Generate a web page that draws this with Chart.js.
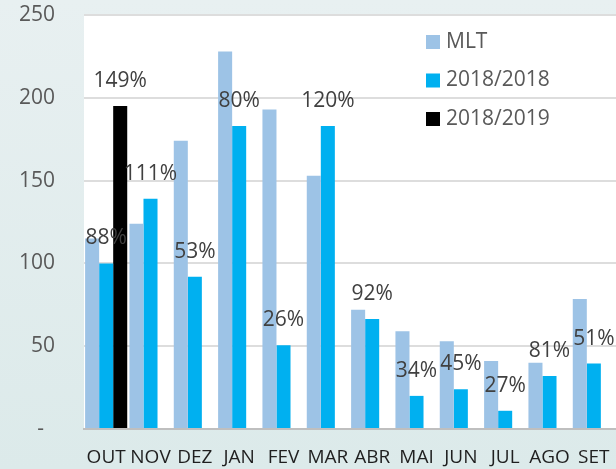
<!DOCTYPE html>
<html>
<head>
<meta charset="utf-8">
<script src="https://cdn.jsdelivr.net/npm/chart.js@4/dist/chart.umd.min.js"></script>
<style>
  html, body { margin: 0; padding: 0; background: #E6EFF0; }
  #wrap { width: 616px; height: 469px; }
</style>
</head>
<body>
<div id="wrap"><canvas id="chart" width="616" height="469"></canvas></div>
<script>
const months = ["OUT", "NOV", "DEZ", "JAN", "FEV", "MAR", "ABR", "MAI", "JUN", "JUL", "AGO", "SET"];
const mlt = [115, 124, 174, 228, 193, 153, 72, 59, 53, 41, 40, 78.5];
const serie1818 = [100, 139, 92, 183, 50.5, 183, 66.5, 20, 24, 11, 32, 39.5];
const serie1819 = [195, null, null, null, null, null, null, null, null, null, null, null];
const pct1818 = ["88%", "111%", "53%", "80%", "26%", "120%", "92%", "34%", "45%", "27%", "81%", "51%"];
const pct1819 = ["149%", null, null, null, null, null, null, null, null, null, null, null];
const yTicks = [0, 50, 100, 150, 200, 250];

const FONT = "'Open Sans', 'Noto Sans', sans-serif";

// fundo cinza-azulado fora da area do grafico, area branca dentro
const bgPlugin = {
    id: "bg",
    beforeDraw(chart) {
        const ctx = chart.ctx;
        const a = chart.chartArea;
        const g = ctx.createLinearGradient(0, 0, 0, chart.height);
        g.addColorStop(0, "#E8F0F1");
        g.addColorStop(1, "#DCEAEA");
        ctx.save();
        ctx.fillStyle = g;
        ctx.fillRect(0, 0, chart.width, chart.height);
        ctx.fillStyle = "#FFFFFF";
        ctx.fillRect(a.left, a.top, a.right - a.left, a.bottom - a.top);
        ctx.restore();
    }
};

// rotulos de percentagem por cima das barras
const pctPlugin = {
    id: "pct",
    afterDatasetsDraw(chart) {
        const ctx = chart.ctx;
        ctx.save();
        ctx.font = "21px " + FONT;
        ctx.fillStyle = "#404040";
        ctx.textAlign = "center";
        ctx.textBaseline = "middle";
        [[1, pct1818], [2, pct1819]].forEach(([dsIndex, labels]) => {
            const meta = chart.getDatasetMeta(dsIndex);
            meta.data.forEach((bar, i) => {
                if (!labels[i]) return;
                ctx.fillText(labels[i], bar.x, bar.y - 25);
            });
        });
        ctx.restore();
    }
};

// legenda vertical dentro da area do grafico
const legendPlugin = {
    id: "customLegend",
    afterDraw(chart) {
        const ctx = chart.ctx;
        ctx.save();
        ctx.font = "21px " + FONT;
        ctx.textBaseline = "middle";
        chart.data.datasets.forEach((ds, i) => {
            const y = 42 + i * 38.5;
            ctx.fillStyle = ds.backgroundColor;
            ctx.fillRect(426, y - 7, 14, 14);
            ctx.fillStyle = "#595959";
            ctx.fillText(ds.label, 446, y);
        });
        ctx.restore();
    }
};

new Chart(document.getElementById("chart"), {
    type: "bar",
    data: {
        labels: months,
        datasets: [
            { label: "MLT", data: mlt, backgroundColor: "#9DC3E6" },
            { label: "2018/2018", data: serie1818, backgroundColor: "#00B0F0" },
            { label: "2018/2019", data: serie1819, backgroundColor: "#000000" }
        ]
    },
    options: {
        responsive: false,
        animation: false,
        layout: { padding: { top: 15, right: 0, left: 0, bottom: 0 } },
        datasets: { bar: { categoryPercentage: 0.95, barPercentage: 1.0, borderWidth: 0 } },
        plugins: {
            legend: { display: false },
            tooltip: { enabled: false }
        },
        scales: {
            x: {
                grid: { display: false, drawTicks: false },
                border: { display: true, color: "#BFBFBF", width: 2 },
                ticks: { color: "#1F1F1F", font: { family: FONT, size: 19 }, padding: 17, maxRotation: 0, autoSkip: false },
                afterFit(scale) {
                    scale.height = 40;
                    scale.paddingLeft = 0;
                    scale.paddingRight = 0;
                }
            },
            y: {
                min: 0,
                max: 250,
                afterBuildTicks(scale) { scale.ticks = yTicks.map(v => ({ value: v })); },
                grid: { color: "#DDDDDD", lineWidth: 2, drawTicks: false },
                border: { display: false },
                ticks: {
                    color: "#595959",
                    font: { family: FONT, size: 21 },
                    padding: 29,
                    callback: v => v === 0 ? "-  " : v
                },
                afterFit(scale) {
                    scale.width = 84;
                    scale.paddingTop = 0;
                    scale.paddingBottom = 0;
                }
            }
        }
    },
    plugins: [bgPlugin, pctPlugin, legendPlugin]
});
</script>
</body>
</html>
